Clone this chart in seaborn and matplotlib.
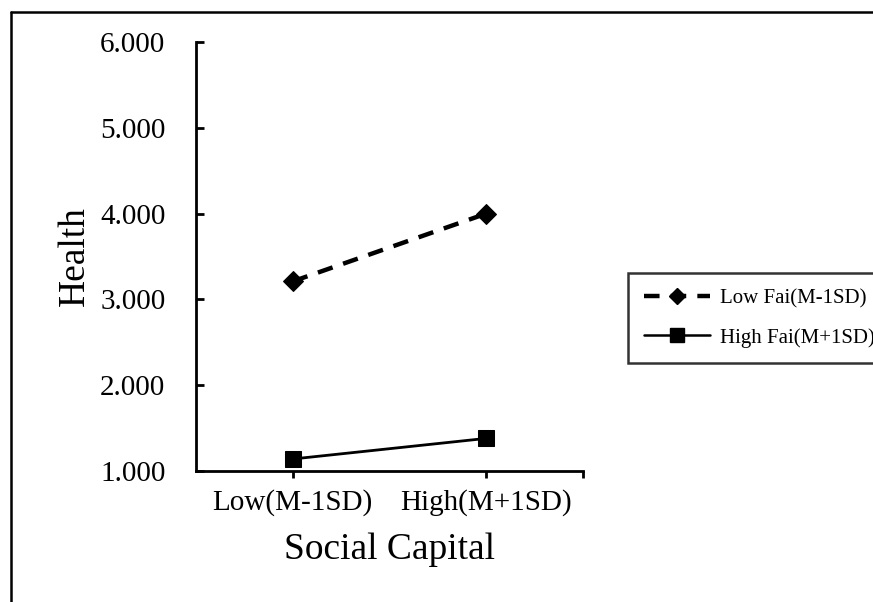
import pandas as pd
import numpy as np
import matplotlib.pyplot as plt
import seaborn as sns
from matplotlib.lines import Line2D

# data
social_capital = ['Low(M-1SD)', 'High(M+1SD)']
low_fai = [3.21, 4.00]
high_fai = [1.14, 1.38]
groups = ['Low Fai(M-1SD)', 'High Fai(M+1SD)']
y_ticks = [1, 2, 3, 4, 5, 6]

df = pd.DataFrame({
    'Social Capital': social_capital * 2,
    'Health': low_fai + high_fai,
    'group': [groups[0]] * 2 + [groups[1]] * 2,
})

sns.set_style('white')
plt.rcParams['font.family'] = ['Liberation Serif', 'DejaVu Serif']
plt.rcParams['text.color'] = 'black'
plt.rcParams['axes.labelcolor'] = 'black'
plt.rcParams['xtick.color'] = 'black'
plt.rcParams['ytick.color'] = 'black'

fig = plt.figure(figsize=(8.73, 6.02), dpi=100)
ax = fig.add_axes([196 / 873, 1 - 471 / 602, (583 - 196) / 873, (471 - 42) / 602])

sns.lineplot(data=df, x='Social Capital', y='Health', hue='group', style='group',
             palette=['black', 'black'], markers=['D', 's'],
             dashes=[(3.5, 2.5), ''], ax=ax, legend=False, sort=False)

# line widths / marker sizes per series
lines = ax.get_lines()
lines[0].set_linewidth(3.2)
lines[0].set_markersize(10)
lines[1].set_linewidth(2.0)
lines[1].set_markersize(11)
for ln in lines:
    ln.set_markerfacecolor('black')
    ln.set_markeredgecolor('black')

ax.set_xlim(-0.5, 1.5)
ax.set_ylim(1, 6)
ax.set_yticks(y_ticks)
ax.set_yticklabels([f'{v:.3f}' for v in y_ticks])
ax.set_xticks([0, 1])
ax.set_xticklabels(social_capital)
ax.set_xticks([1.5], minor=True)

for s in ['top', 'right']:
    ax.spines[s].set_visible(False)
for s in ['left', 'bottom']:
    ax.spines[s].set_color('black')
    ax.spines[s].set_linewidth(2)

ax.tick_params(axis='y', direction='in', length=6, width=2, pad=22, labelsize=21, left=True,
               labelcolor='black')
ax.tick_params(axis='x', which='both', direction='out', length=5, width=2, pad=8, labelsize=21,
               bottom=True, labelcolor='black')

ax.set_xlabel('Social Capital', fontsize=27, labelpad=12, color='black')
ax.set_ylabel('Health', fontsize=27, labelpad=6, color='black')

# legend (runs off the right edge like the original)
handles = [
    Line2D([], [], color='black', lw=3.2, ls=(0, (3.5, 2.5)), marker='D', markersize=8),
    Line2D([], [], color='black', lw=1.8, marker='s', markersize=10),
]
leg = fig.legend(handles, groups, loc='upper left', bbox_to_anchor=(628 / 873, 1 - 273 / 602),
                 borderaxespad=0, fontsize=15, frameon=True, fancybox=False, handlelength=3.2,
                 borderpad=0.75, labelspacing=0.95, handletextpad=0.45)
leg.get_frame().set_edgecolor('black')
leg.get_frame().set_linewidth(1.8)
for t in leg.get_texts():
    t.set_color('black')

# outer border (only left and top are visible in the original)
fig.add_artist(Line2D([11 / 873, 11 / 873], [0, 1 - 12 / 602], transform=fig.transFigure,
                      color='black', lw=1.8))
fig.add_artist(Line2D([11 / 873, 1], [1 - 12 / 602, 1 - 12 / 602], transform=fig.transFigure,
                      color='black', lw=1.8))

fig.savefig('out.png', dpi=100)
